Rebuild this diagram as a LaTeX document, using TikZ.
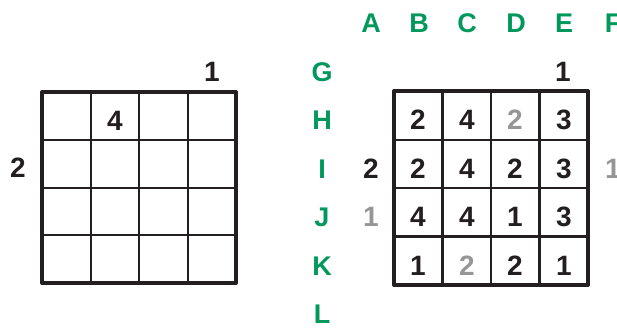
\documentclass[tikz,border=0pt]{standalone}
\usepackage{fontspec}
\setmainfont{Liberation Sans}
\definecolor{cgreen}{RGB}{0,152,92}
\definecolor{cgray}{RGB}{150,150,150}
\definecolor{cblack}{RGB}{35,31,32}
\tikzset{
  lab/.style={font=\bfseries\fontsize{27}{27}\selectfont, text=cgreen, inner sep=0pt},
  dig/.style={font=\bfseries\fontsize{28}{28}\selectfont, text=cblack, inner sep=0pt},
  gdig/.style={dig, text=cgray},
  outer/.style={draw=cblack, line width=4pt, line join=round},
  thin/.style={draw=cblack, line width=2pt},
  mid/.style={draw=cblack, line width=2.8pt},
}
\begin{document}
\begin{tikzpicture}[x=1pt,y=-1pt]
\useasboundingbox (0,0) rectangle (617,327);
% left grid
\foreach \i in {1,2,3}{
  \draw[thin] (42+48.5*\i,92) -- (42+48.5*\i,283);
  \draw[thin] (42,92+47.75*\i) -- (236,92+47.75*\i);
}
\draw[outer] (42,92) rectangle (236,283);
\node[dig] (l4) at (115,121) {4};
\node[dig] (ltop) at (212,72) {1};
\node[dig] (lleft) at (18,168) {2};
% right grid
\foreach \i in {1,2,3}{
  \draw[mid] (394+48.5*\i,91) -- (394+48.5*\i,285);
}
\draw[thin] (394,139.5) -- (588,139.5);
\draw[mid] (394,188) -- (588,188);
\draw[mid] (394,236.5) -- (588,236.5);
\draw[outer] (394,91) rectangle (588,285);
% column letters
\node[lab] (cA) at (371,23) {A};
\node[lab] (cB) at (419,23) {B};
\node[lab] (cC) at (467,23) {C};
\node[lab] (cD) at (516,23) {D};
\node[lab] (cE) at (564,23) {E};
\node[lab] (cF) at (613,23) {F};
% row letters
\node[lab] (rG) at (322,72) {G};
\node[lab] (rH) at (322,120.5) {H};
\node[lab] (rI) at (322,169) {I};
\node[lab] (rJ) at (322,217.5) {J};
\node[lab] (rK) at (322,266) {K};
\node[lab] (rL) at (322,314.5) {L};
% right grid digits
\node[dig] (h1) at (418,120) {2};
\node[dig] (h2) at (467,120) {4};
\node[gdig] (h3) at (515,120) {2};
\node[dig] (h4) at (564,120) {3};
\node[dig] (i1) at (418,168.5) {2};
\node[dig] (i2) at (467,168.5) {4};
\node[dig] (i3) at (515,168.5) {2};
\node[dig] (i4) at (564,168.5) {3};
\node[dig] (j1) at (418,217) {4};
\node[dig] (j2) at (467,217) {4};
\node[dig] (j3) at (515,217) {1};
\node[dig] (j4) at (564,217) {3};
\node[dig] (k1) at (418,265.5) {1};
\node[gdig] (k2) at (467,265.5) {2};
\node[dig] (k3) at (515,265.5) {2};
\node[dig] (k4) at (564,265.5) {1};
% clues
\node[dig] (rtop) at (563,72) {1};
\node[dig] (rleft2) at (371,168.5) {2};
\node[gdig] (rleft1) at (371,217) {1};
\node[gdig] (rright1) at (613,168.5) {1};
\end{tikzpicture}
\end{document}
